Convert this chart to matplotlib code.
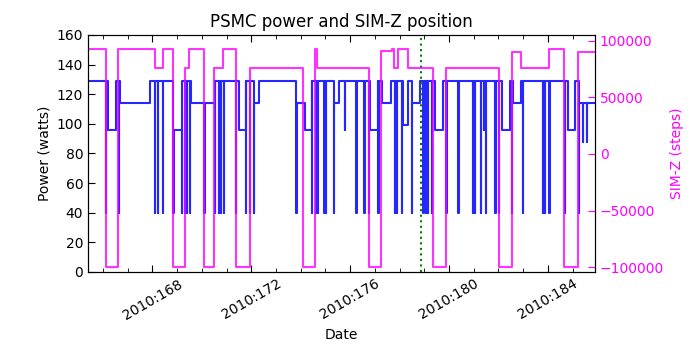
import numpy as np
import matplotlib
matplotlib.use("Agg")
import matplotlib.pyplot as plt
from matplotlib.ticker import MultipleLocator, FuncFormatter

# PSMC power: step changes (day of year 2010, watts)
power_t = [165.396, 166.218, 166.518, 166.680, 167.919, 168.851, 169.203, 169.555,
           170.539, 171.512, 171.795, 172.107, 172.301, 173.820, 174.164, 174.456,
           175.331, 175.562, 176.797, 177.141, 177.275, 177.656, 178.154, 178.356,
           178.490, 178.830, 179.438, 179.754, 182.135, 182.447, 182.568, 182.921,
           184.809, 185.108, 185.242, 185.950]
power_w = [129, 96, 129, 114, 129, 96, 129, 114,
           129, 96, 129, 114, 129, 114, 96, 129,
           114, 129, 96, 129, 114, 129, 99, 129,
           114, 129, 96, 129, 96, 129, 114, 129,
           96, 129, 114, 114]

# short power dips
dip_t = [166.125, 166.651, 168.097, 168.219, 168.433, 168.851, 169.191, 169.324,
         169.405, 169.527, 170.106, 170.539, 170.701, 170.783, 170.904, 171.390,
         171.795, 171.929, 172.107, 173.820, 174.456, 174.630, 174.683, 174.954,
         175.007, 175.331, 175.793, 176.250, 176.574, 176.748, 177.141, 177.818,
         177.883, 178.085, 178.490, 178.964, 179.057, 179.138, 179.300, 179.896,
         180.381, 180.977, 181.030, 181.285, 181.394, 181.487, 181.868, 182.001,
         182.540, 182.986, 183.784, 183.865, 184.055, 184.675, 185.242, 185.404,
         185.578]
dip_w = [40, 40, 40, 40, 40, 40, 40, 40,
         40, 40, 40, 40, 40, 40, 40, 40,
         40, 40, 40, 40, 40, 40, 40, 40,
         40, 40, 96, 40, 40, 40, 40, 40,
         40, 40, 40, 40, 40, 40, 40, 40,
         40, 40, 40, 40, 96, 40, 40, 40,
         40, 40, 40, 40, 40, 40, 40, 88,
         88]

# SIM-Z position: step changes (day of year 2010, steps)
simz_t = [165.396, 166.125, 166.623, 168.109, 168.446, 168.851, 169.324, 169.499,
          170.106, 170.499, 170.876, 171.378, 171.929, 174.075, 174.590, 174.659,
          176.748, 177.251, 177.680, 177.789, 177.923, 178.356, 179.341, 179.896,
          182.001, 182.540, 182.921, 184.055, 184.663, 185.201, 185.950]
simz_v = [92904, -99616, 92904, 75624, 92904, -99616, 75624, 92904,
          -99616, 75624, 92904, -99616, 75624, -99616, 92904, 75624,
          -99616, 90500, 92904, 75624, 92904, 75624, -99616, 75624,
          -99616, 90000, 75624, 92904, -99616, 90000, 90000]

marker_day = 178.871


def add_dips(t, v, dt, dv, width=0.012):
    t = np.asarray(t, dtype=float)
    v = np.asarray(v, dtype=float)
    tt = list(t)
    vv = list(v)
    for d, w in zip(dt, dv):
        after = np.searchsorted(t, d + width, side="right") - 1
        tt += [d, d + width]
        vv += [w, v[after]]
    order = np.argsort(tt, kind="stable")
    return np.array(tt)[order], np.array(vv)[order]


pt, pw = add_dips(power_t, power_w, dip_t, dip_w)

fig = plt.figure(figsize=(7, 3.5), dpi=100)
ax1 = fig.add_axes([0.1257, 0.2229, 0.7243, 0.6771])
ax1.plot(pt, pw, color="b", drawstyle="steps-post", lw=1.5, alpha=0.85)
ax1.axvline(marker_day, color="g", linestyle=":", lw=1.5)
ax1.set_xlim(165.396, 185.904)
ax1.set_ylim(0, 160)
ax1.set_ylabel("Power (watts)")
ax1.set_xlabel("Date")
ax1.set_title("PSMC power and SIM-Z position", fontsize=12)

ax1.xaxis.set_major_locator(MultipleLocator(4))
ax1.xaxis.set_minor_locator(MultipleLocator(1))
ax1.xaxis.set_major_formatter(FuncFormatter(lambda x, pos: "2010:%03d" % int(round(x))))
ax1.yaxis.set_major_locator(MultipleLocator(20))
ax1.tick_params(axis="x", which="both", direction="in", top=True)
ax1.tick_params(axis="x", which="major", length=5)
ax1.tick_params(axis="x", which="minor", length=3)
ax1.tick_params(axis="y", direction="in", length=5, right=False)
for lbl in ax1.get_xticklabels():
    lbl.set_rotation(30)
    lbl.set_ha("center")

ax2 = ax1.twinx()
ax2.plot(simz_t, simz_v, color="#ff00ff", drawstyle="steps-post", lw=1.5, alpha=0.8)
ax2.set_ylim(-104150, 105030)
ax2.set_xlim(165.396, 185.904)
ax2.yaxis.set_major_locator(MultipleLocator(50000))
ax2.set_ylabel("SIM-Z (steps)", color="#ff00ff")
ax2.tick_params(axis="y", direction="in", length=5, colors="#ff00ff")

fig.savefig("out.png", dpi=100)
